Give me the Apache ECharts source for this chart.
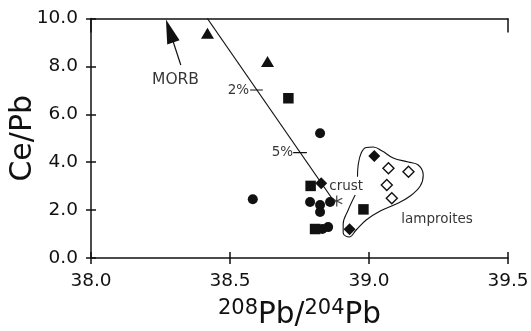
<!DOCTYPE html>
<html>
<head>
<meta charset="utf-8">
<script src="https://cdn.jsdelivr.net/npm/echarts@6/dist/echarts.min.js"></script>
<style>html,body{margin:0;padding:0;background:#fff;}#c{width:531px;height:331px;}</style>
</head>
<body>
<div id="c"></div>
<script>
// ---- data (x = 208Pb/204Pb, y = Ce/Pb) ----
var xTicks = [38.0, 38.5, 39.0, 39.5];
var yTicks = [0.0, 2.0, 4.0, 6.0, 8.0, 10.0];
var triangles = [[38.419, 9.38], [38.635, 8.20]];
var squares = [[38.710, 6.67], [38.790, 3.01], [38.980, 2.03], [38.806, 1.21]];
var circles = [[38.824, 5.21], [38.582, 2.45], [38.788, 2.34], [38.824, 2.21], [38.824, 1.92], [38.860, 2.34], [38.832, 1.21], [38.853, 1.29]];
var filledDiamonds = [[38.828, 3.12], [39.019, 4.26], [38.930, 1.20]];
var openDiamonds = [[39.070, 3.75], [39.142, 3.60], [39.064, 3.05], [39.082, 2.49]];
var crust = [[38.884, 2.38]];
var mixingLine = [[38.4186, 10.0], [38.872, 2.40]];
var tick2pct = [[38.5724, 7.015], [38.6181, 7.015]];
var tick5pct = [[38.7272, 4.40], [38.7765, 4.40]];
var morbArrow = [[38.323, 8.06], [38.283, 9.48]];
var lamproiteOutline = [[38.9586, 3.395], [38.9611, 3.883], [38.9719, 4.384], [38.9899, 4.614], [39.0151, 4.635], [39.0475, 4.468], [39.0871, 4.175], [39.1411, 4.008], [39.1771, 3.883], [39.1951, 3.466], [39.1843, 3.006], [39.1483, 2.589], [39.0979, 2.255], [39.0403, 1.962], [38.9899, 1.587], [38.9539, 1.169], [38.9287, 0.877], [38.9071, 1.044], [38.9071, 1.420], [38.9251, 2.004], [38.9503, 2.630]];
var labelsRight = [{name: '2%', value: [38.569, 7.01]}, {name: '5%', value: [38.727, 4.40]}];
var labelsLeft = [{name: 'crust', value: [38.857, 3.0]}, {name: 'lamproites', value: [39.116, 1.59]}];
var labelsCenter = [{name: 'MORB', value: [38.304, 7.43]}];

var FONT = 'DejaVu Sans';
var INK = '#111';
var chart = echarts.init(document.getElementById('c'), null, {renderer: 'canvas'});

function lineSeries(data, extra) {
  var s = {type: 'line', data: data, symbol: 'none', silent: true, z: 3,
    lineStyle: {color: INK, width: 1.2}, xAxisIndex: 0, yAxisIndex: 0};
  for (var k in extra) s[k] = extra[k];
  return s;
}
function textSeries(data, align, size) {
  return {type: 'scatter', data: data, symbolSize: 0, silent: true, xAxisIndex: 0, yAxisIndex: 0,
    label: {show: true, position: 'inside', align: align, verticalAlign: 'middle',
      formatter: function (p) { return p.name; }, color: '#000', fontFamily: FONT, fontSize: size}};
}
function scatter(data, symbol, size, fill, stroke) {
  return {type: 'scatter', data: data, symbol: symbol, symbolSize: size, z: 4, silent: true,
    xAxisIndex: 0, yAxisIndex: 0,
    itemStyle: {color: fill, borderColor: stroke || fill, borderWidth: stroke ? 1.4 : 0, opacity: 1}};
}

var option = {
  animation: false,
  backgroundColor: '#fff',
  grid: {left: 91, right: 23, top: 18.5, bottom: 73, containLabel: false, outerBoundsMode: 'none'},
  xAxis: [
    {type: 'value', position: 'bottom', min: xTicks[0], max: xTicks[xTicks.length - 1], interval: 0.5,
      splitLine: {show: false},
      axisLine: {show: true, onZero: false, lineStyle: {color: INK, width: 1.5}},
      axisTick: {show: true, inside: false, length: 6, lineStyle: {color: INK, width: 1.5}},
      axisLabel: {margin: 14, color: INK, fontFamily: FONT, fontSize: 18.5, formatter: function (v) { return v.toFixed(1); }},
      name: '{sup|208}{base|Pb/}{sup|204}{base|Pb}', nameLocation: 'middle', nameGap: 40, nameMoveOverlap: false,
      nameTextStyle: {rich: {
        sup: {fontFamily: FONT, fontSize: 21, color: INK, verticalAlign: 'top', lineHeight: 32, padding: [0, 0, 11, 0]},
        base: {fontFamily: FONT, fontSize: 29.5, color: INK, verticalAlign: 'bottom', lineHeight: 32}
      }}},
    {type: 'value', position: 'bottom', min: xTicks[0], max: xTicks[xTicks.length - 1], interval: 0.5,
      splitLine: {show: false}, axisLine: {show: false, onZero: false}, axisLabel: {show: false},
      axisTick: {show: true, inside: true, length: 6, lineStyle: {color: INK, width: 1.5}}},
    {type: 'value', position: 'top', min: xTicks[0], max: xTicks[xTicks.length - 1], interval: 1.5,
      splitLine: {show: false}, axisLabel: {show: false},
      axisLine: {show: true, onZero: false, lineStyle: {color: INK, width: 1.5}},
      axisTick: {show: true, inside: true, length: 14, lineStyle: {color: INK, width: 1.5}}}
  ],
  yAxis: [
    {type: 'value', position: 'left', min: yTicks[0], max: yTicks[yTicks.length - 1], interval: 2,
      splitLine: {show: false},
      axisLine: {show: true, onZero: false, lineStyle: {color: INK, width: 1.5}},
      axisTick: {show: true, inside: false, length: 5, lineStyle: {color: INK, width: 1.5}},
      axisLabel: {margin: 13, color: INK, fontFamily: FONT, fontSize: 18.5, formatter: function (v) { return v.toFixed(1); }},
      name: 'Ce/Pb', nameLocation: 'middle', nameGap: 53, nameRotate: 90, nameMoveOverlap: false,
      nameTextStyle: {fontFamily: FONT, fontSize: 30, color: INK}},
    {type: 'value', position: 'left', min: yTicks[0], max: yTicks[yTicks.length - 1], interval: 2,
      splitLine: {show: false}, axisLine: {show: false, onZero: false}, axisLabel: {show: false},
      axisTick: {show: true, inside: true, length: 5, lineStyle: {color: INK, width: 1.5}}}
  ],
  series: [
    lineSeries(mixingLine, {}),
    lineSeries(tick2pct, {}),
    lineSeries(tick5pct, {}),
    lineSeries(lamproiteOutline, {smooth: 0.4, lineStyle: {color: INK, width: 1.1}}),
    {type: 'line', data: [], xAxisIndex: 0, yAxisIndex: 0, silent: true,
      markLine: {silent: true, symbol: ['none', 'triangle'], symbolSize: [13, 24], label: {show: false},
        lineStyle: {color: INK, width: 1.2, type: 'solid'},
        data: [[{coord: morbArrow[0]}, {coord: morbArrow[1]}]]}},
    scatter(triangles, 'triangle', [13, 11], INK),
    scatter(squares, 'rect', 10.5, INK),
    scatter(circles, 'circle', 10, INK),
    scatter(filledDiamonds, 'diamond', 12, INK),
    scatter(openDiamonds, 'diamond', 11, '#fff', INK),
    {type: 'scatter', data: crust, symbol: 'path://M0,-5L0,5M-4.33,-2.5L4.33,2.5M-4.33,2.5L4.33,-2.5',
      symbolSize: 11, z: 4, silent: true, xAxisIndex: 0, yAxisIndex: 0,
      itemStyle: {color: 'none', borderColor: INK, borderWidth: 1.2}},
    textSeries(labelsRight, 'right', 13.5),
    textSeries(labelsLeft, 'left', 13.5),
    textSeries(labelsCenter, 'center', 15.5)
  ]
};
chart.setOption(option);
</script>
</body>
</html>
